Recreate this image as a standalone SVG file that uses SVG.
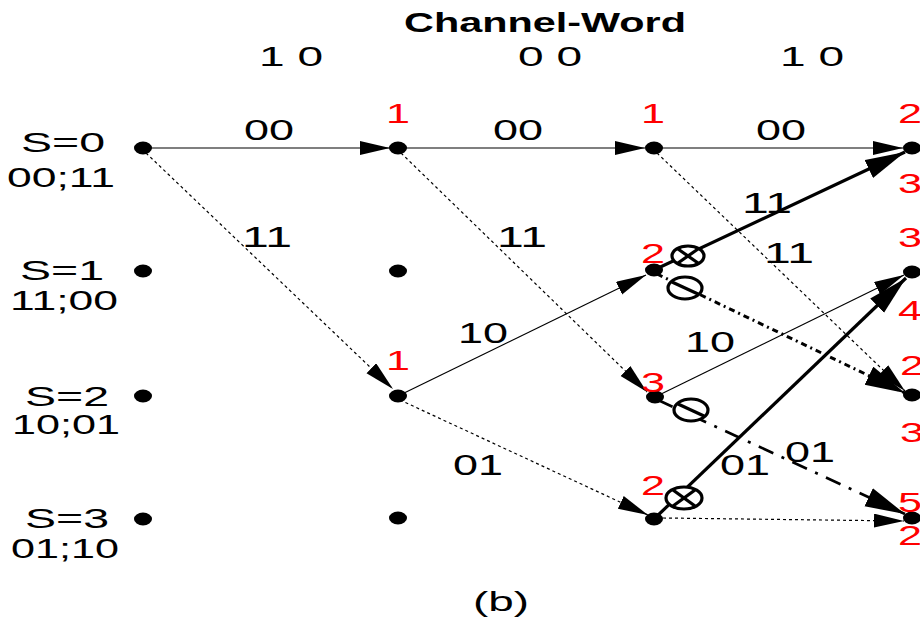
<svg xmlns="http://www.w3.org/2000/svg" width="920" height="620" viewBox="0 0 920 620">
  <defs>
    <style>
      text { font-family: "Liberation Sans", Arial, sans-serif; font-size: 28px; fill: #000; text-anchor: middle; }
      .title { font-weight: bold; }
      .lbl { font-size: 29px; }
      .cost { fill: #ff0000; }
      .node { fill: #000; }
      .thin { fill: none; stroke: #000; stroke-width: 1.2; marker-end: url(#arr); }
      .dot { fill: none; stroke: #000; stroke-width: 1.2; stroke-dasharray: 3 3; marker-end: url(#arr); }
      .thick { fill: none; stroke: #000; stroke-width: 3.2; marker-end: url(#arrBig); }
      .thickdot { fill: none; stroke: #000; stroke-width: 3; stroke-dasharray: 6 4 2 4; marker-end: url(#arrBig); }
      .dashdot { fill: none; stroke: #000; stroke-width: 2.6; stroke-dasharray: 16 9 3 9; marker-end: url(#arrBig); }
      .mark { fill: #fff; stroke: #000; stroke-width: 3.2; }
      .mark line { stroke: #000; stroke-width: 3.2; }
    </style>
    <marker id="arr" markerUnits="userSpaceOnUse" markerWidth="30" markerHeight="16" refX="30" refY="7" orient="auto">
      <path d="M0,0 L30,7 L0,14 z" fill="#000"/>
    </marker>
    <marker id="arrBig" markerUnits="userSpaceOnUse" markerWidth="40" markerHeight="22" refX="40" refY="10" orient="auto">
      <path d="M0,0 L40,10 L0,20 z" fill="#000"/>
    </marker>
  </defs>

  <rect width="920" height="620" fill="#fff"/>

  <!-- header -->
  <text class="title" x="545" y="32" textLength="282" lengthAdjust="spacingAndGlyphs">Channel-Word</text>
  <text x="291" y="66" textLength="64" lengthAdjust="spacingAndGlyphs">1 0</text>
  <text x="550" y="66" textLength="64" lengthAdjust="spacingAndGlyphs">0 0</text>
  <text x="812" y="66" textLength="64" lengthAdjust="spacingAndGlyphs">1 0</text>

  <!-- state labels -->
  <g id="state-labels">
    <text x="63" y="152" textLength="84" lengthAdjust="spacingAndGlyphs">S=0</text>
    <text x="61" y="187" textLength="108" lengthAdjust="spacingAndGlyphs">00;11</text>
    <text x="62" y="280" textLength="84" lengthAdjust="spacingAndGlyphs">S=1</text>
    <text x="64" y="310" textLength="108" lengthAdjust="spacingAndGlyphs">11;00</text>
    <text x="67" y="406" textLength="84" lengthAdjust="spacingAndGlyphs">S=2</text>
    <text x="66" y="434" textLength="108" lengthAdjust="spacingAndGlyphs">10;01</text>
    <text x="67" y="528" textLength="84" lengthAdjust="spacingAndGlyphs">S=3</text>
    <text x="65" y="558" textLength="108" lengthAdjust="spacingAndGlyphs">01;10</text>
  </g>

  <!-- connectors -->
  <g id="connectors">
    <!-- stage 1 -->
    <path class="thin" d="M143,148 L390,148"/>
    <path class="dot" d="M146,153 L393,389"/>
    <!-- stage 2 -->
    <path class="thin" d="M398,148 L645,148"/>
    <path class="dot" d="M401,153 L647,392"/>
    <path class="thin" d="M398,396 L646,275"/>
    <path class="dot" d="M400,400 L648,515"/>
    <!-- stage 3 -->
    <path class="thin" d="M654,148 L903,148"/>
    <path class="dot" d="M657,153 L905,391"/>
    <path class="thick" d="M654,270 L905,152"/>
    <path class="thickdot" d="M657,274 L905,393"/>
    <path class="thin" d="M655,397 L904,275"/>
    <path class="dashdot" d="M658,400 L905,514"/>
    <path class="thick" d="M654,519 L906,278"/>
    <path class="dot" d="M663,518 L904,521"/>

    <!-- edge labels -->
    <text class="lbl" x="269" y="140" textLength="50" lengthAdjust="spacingAndGlyphs">00</text>
    <text class="lbl" x="518" y="140" textLength="50" lengthAdjust="spacingAndGlyphs">00</text>
    <text class="lbl" x="781" y="140" textLength="50" lengthAdjust="spacingAndGlyphs">00</text>
    <text class="lbl" x="267" y="247" textLength="50" lengthAdjust="spacingAndGlyphs">11</text>
    <text class="lbl" x="522" y="247" textLength="50" lengthAdjust="spacingAndGlyphs">11</text>
    <text class="lbl" x="767" y="213" textLength="50" lengthAdjust="spacingAndGlyphs">11</text>
    <text class="lbl" x="789" y="263" textLength="50" lengthAdjust="spacingAndGlyphs">11</text>
    <text class="lbl" x="483" y="343" textLength="50" lengthAdjust="spacingAndGlyphs">10</text>
    <text class="lbl" x="710" y="352" textLength="50" lengthAdjust="spacingAndGlyphs">10</text>
    <text class="lbl" x="478" y="475" textLength="50" lengthAdjust="spacingAndGlyphs">01</text>
    <text class="lbl" x="745" y="475" textLength="50" lengthAdjust="spacingAndGlyphs">01</text>
    <text class="lbl" x="810" y="462" textLength="50" lengthAdjust="spacingAndGlyphs">01</text>

    <!-- discarded-branch marks -->
    <g class="mark" transform="translate(688,256)">
      <ellipse rx="16" ry="10"/>
      <line x1="-10" y1="-7" x2="10" y2="7"/>
      <line x1="-10" y1="7" x2="10" y2="-7"/>
    </g>
    <g class="mark" transform="translate(685,288)">
      <ellipse rx="17" ry="11"/>
      <line x1="-13" y1="-6" x2="13" y2="6"/>
    </g>
    <g class="mark" transform="translate(691,410)">
      <ellipse rx="17" ry="11"/>
      <line x1="-13" y1="-6" x2="13" y2="6"/>
    </g>
    <g class="mark" transform="translate(684,498)">
      <ellipse rx="18" ry="11"/>
      <line x1="-11" y1="-8" x2="11" y2="8"/>
      <line x1="-11" y1="8" x2="11" y2="-8"/>
    </g>
  </g>

  <!-- trellis nodes -->
  <g id="n-0-0"><ellipse class="node" cx="143" cy="148" rx="9" ry="6.5"/></g>
  <g id="n-0-1"><ellipse class="node" cx="143" cy="271" rx="9" ry="6.5"/></g>
  <g id="n-0-2"><ellipse class="node" cx="143" cy="396" rx="9" ry="6.5"/></g>
  <g id="n-0-3"><ellipse class="node" cx="143" cy="519" rx="9" ry="6.5"/></g>

  <g id="n-1-0"><ellipse class="node" cx="398" cy="148" rx="9" ry="6.5"/><text class="cost" x="398" y="123" textLength="24" lengthAdjust="spacingAndGlyphs">1</text></g>
  <g id="n-1-1"><ellipse class="node" cx="398" cy="271" rx="9" ry="6.5"/></g>
  <g id="n-1-2"><ellipse class="node" cx="398" cy="396" rx="9" ry="6.5"/><text class="cost" x="398" y="370" textLength="24" lengthAdjust="spacingAndGlyphs">1</text></g>
  <g id="n-1-3"><ellipse class="node" cx="398" cy="518" rx="9" ry="6.5"/></g>

  <g id="n-2-0"><ellipse class="node" cx="654" cy="148" rx="9" ry="6.5"/><text class="cost" x="653" y="123" textLength="24" lengthAdjust="spacingAndGlyphs">1</text></g>
  <g id="n-2-1"><ellipse class="node" cx="654" cy="270" rx="9" ry="6.5"/><text class="cost" x="653" y="263" textLength="24" lengthAdjust="spacingAndGlyphs">2</text></g>
  <g id="n-2-2"><ellipse class="node" cx="655" cy="397" rx="9" ry="6.5"/><text class="cost" x="653" y="392" textLength="24" lengthAdjust="spacingAndGlyphs">3</text></g>
  <g id="n-2-3"><ellipse class="node" cx="654" cy="519" rx="9" ry="6.5"/><text class="cost" x="653" y="495" textLength="24" lengthAdjust="spacingAndGlyphs">2</text></g>

  <g id="n-3-0"><ellipse class="node" cx="912" cy="148" rx="9" ry="6.5"/>
    <text class="cost" x="910" y="123" textLength="24" lengthAdjust="spacingAndGlyphs">2</text>
    <text class="cost" x="910" y="193" textLength="24" lengthAdjust="spacingAndGlyphs">3</text></g>
  <g id="n-3-1"><ellipse class="node" cx="912" cy="272" rx="9" ry="6.5"/>
    <text class="cost" x="910" y="247" textLength="24" lengthAdjust="spacingAndGlyphs">3</text>
    <text class="cost" x="910" y="320" textLength="24" lengthAdjust="spacingAndGlyphs">4</text></g>
  <g id="n-3-2"><ellipse class="node" cx="912" cy="395" rx="9" ry="6.5"/>
    <text class="cost" x="912" y="375" textLength="24" lengthAdjust="spacingAndGlyphs">2</text>
    <text class="cost" x="912" y="442" textLength="24" lengthAdjust="spacingAndGlyphs">3</text></g>
  <g id="n-3-3"><ellipse class="node" cx="912" cy="518" rx="9" ry="6.5"/>
    <text class="cost" x="910" y="512" textLength="24" lengthAdjust="spacingAndGlyphs">5</text>
    <text class="cost" x="910" y="545" textLength="24" lengthAdjust="spacingAndGlyphs">2</text></g>

  <text x="501" y="611" textLength="56" lengthAdjust="spacingAndGlyphs">(b)</text>
</svg>
